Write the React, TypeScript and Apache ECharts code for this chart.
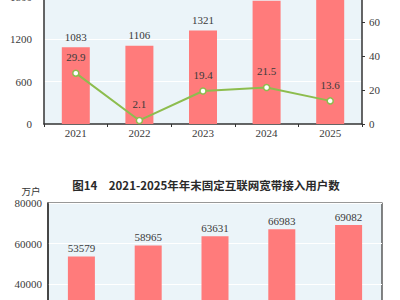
import React, { useEffect, useRef } from "react";
import * as echarts from "echarts";

const years = ["2021", "2022", "2023", "2024", "2025"];
const topBarValues = [1083, 1106, 1321, 1740, 1977];
const topLineValues = [29.9, 2.1, 19.4, 21.5, 13.6];
const broadbandUsers = [53579, 58965, 63631, 66983, 69082];
const bottomTitle = "图14　2021-2025年年末固定互联网宽带接入用户数";
const bottomUnit = "万户";

const OFFSET = 60;
const serif = "Liberation Serif";
const cjk = "Noto Sans CJK SC";
const BG = "#ebf4f9";
const BAR = "#ff7b7b";
const LINE = "#8dbd4e";
const AXIS = "#333333";

export default function App() {
  const ref = useRef<HTMLDivElement>(null);
  useEffect(() => {
    if (!ref.current) return;
    const chart = echarts.init(ref.current, undefined, { renderer: "svg" });
    const axisLine = { show: true, lineStyle: { color: AXIS, width: 1.5 } };
    const labelStyle = { fontFamily: serif, fontSize: 11, color: "#3a3a3a" };
    const plain = (v: any) => String(v);
    chart.setOption({
      animation: false,
      backgroundColor: "#ffffff",
      textStyle: { fontFamily: serif },
      grid: [
        {
          left: 44, right: 38, top: -46 + OFFSET, height: 170,
          show: true, backgroundColor: BG, borderWidth: 0,
        },
        {
          left: 48, right: 18, top: 203 + OFFSET, height: 162,
          show: true, backgroundColor: BG, borderColor: AXIS, borderWidth: 1.2,
        },
      ],
      graphic: [
        {
          type: "text", x: 206, y: 185 + OFFSET,
          style: {
            text: bottomTitle, fontFamily: cjk, fontSize: 11.5, fontWeight: "bold",
            fill: "#2a2a2a", align: "center", verticalAlign: "middle",
          },
        },
        {
          type: "text", x: 31, y: 191 + OFFSET,
          style: {
            text: bottomUnit, fontFamily: cjk, fontSize: 9.5,
            fill: "#333", align: "center", verticalAlign: "middle",
          },
        },
      ],
      xAxis: [
        {
          type: "category", gridIndex: 0, data: years, axisLine,
          axisTick: { show: true, length: 3, lineStyle: { color: AXIS } },
          axisLabel: { ...labelStyle, margin: 3 },
        },
        {
          type: "category", gridIndex: 1, data: years, axisLine,
          axisTick: { show: true, length: 3, lineStyle: { color: AXIS } },
          axisLabel: { ...labelStyle, margin: 3 },
        },
      ],
      yAxis: [
        {
          type: "value", gridIndex: 0, min: 0, max: 2400, interval: 600,
          axisLine, axisTick: { show: false },
          axisLabel: { ...labelStyle, margin: 12, formatter: plain },
          splitLine: { show: true, lineStyle: { color: "#ffffff", width: 1 } },
        },
        {
          type: "value", gridIndex: 0, min: 0, max: 100, interval: 20, position: "right",
          axisLine, axisTick: { show: true, length: 3, lineStyle: { color: AXIS } },
          axisLabel: { ...labelStyle, margin: 7, formatter: plain },
          splitLine: { show: false },
        },
        {
          type: "value", gridIndex: 1, min: 0, max: 80000, interval: 20000,
          axisLine, axisTick: { show: false },
          axisLabel: { ...labelStyle, margin: 6, formatter: plain },
          splitLine: { show: true, lineStyle: { color: "#ffffff", width: 1 } },
        },
      ],
      series: [
        {
          type: "bar", xAxisIndex: 0, yAxisIndex: 0, data: topBarValues,
          barWidth: 28, itemStyle: { color: BAR },
          label: { show: true, position: "top", distance: 5, ...labelStyle },
        },
        {
          type: "line", xAxisIndex: 0, yAxisIndex: 1, data: topLineValues,
          lineStyle: { color: LINE, width: 2 },
          symbol: "circle", symbolSize: 6,
          itemStyle: { color: "#ffffff", borderColor: LINE, borderWidth: 1.5 },
          label: {
            show: true, position: "top", distance: 7, ...labelStyle,
            formatter: (p: any) => Number(p.value).toFixed(1),
          },
          z: 5,
        },
        {
          type: "bar", xAxisIndex: 1, yAxisIndex: 2, data: broadbandUsers,
          barWidth: 27, itemStyle: { color: BAR },
          label: { show: true, position: "top", distance: 3, ...labelStyle },
        },
      ],
    });
    return () => chart.dispose();
  }, []);
  return (
    <div style={{ position: "fixed", left: 0, top: 0, width: 400, height: 300, overflow: "hidden", background: "#fff" }}>
      <div ref={ref} style={{ position: "absolute", left: 0, top: -OFFSET, width: 400, height: 460 }} />
    </div>
  );
}
